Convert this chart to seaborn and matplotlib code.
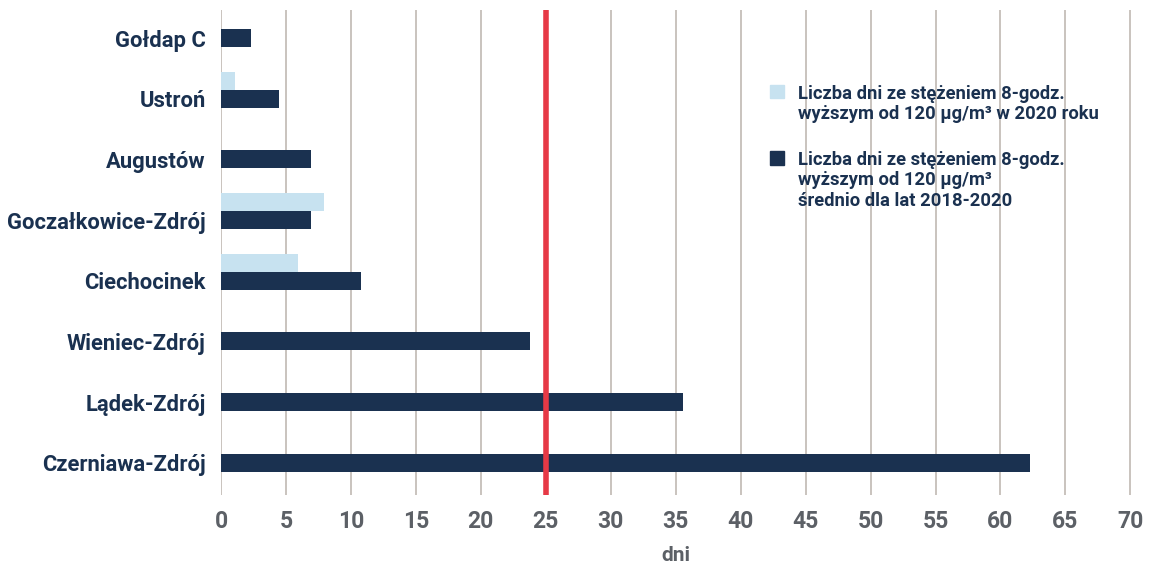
import matplotlib
matplotlib.use("Agg")
import matplotlib.pyplot as plt
import seaborn as sns
import pandas as pd
import numpy as np
from matplotlib.patches import Patch

stations = ["Gołdap C", "Ustroń", "Augustów", "Goczałkowice-Zdrój",
            "Ciechocinek", "Wieniec-Zdrój", "Lądek-Zdrój", "Czerniawa-Zdrój"]
days_2020 = [0, 1.1, 0, 7.9, 5.9, 0, 0, 0]
days_avg = [2.3, 4.5, 6.9, 6.9, 10.8, 23.8, 35.6, 62.3]
x_ticks = list(range(0, 75, 5))
threshold = 25

lbl_2020 = "Liczba dni ze stężeniem 8-godz.\nwyższym od 120 µg/m³ w 2020 roku"
lbl_avg = "Liczba dni ze stężeniem 8-godz.\nwyższym od 120 µg/m³\nśrednio dla lat 2018-2020"

NAVY = "#1a3150"
LIGHT = "#c7e2f0"
RED = "#e63946"
GREY = "#5c6066"
GRID = "#c9c3be"

sns.set_theme(style="white")
plt.rcParams["font.family"] = ["Roboto", "DejaVu Sans"]

df = pd.concat([
    pd.DataFrame({"stacja": stations, "dni": days_2020, "seria": "a"}),
    pd.DataFrame({"stacja": stations, "dni": days_avg, "seria": "b"}),
    pd.DataFrame({"stacja": stations, "dni": [0.0] * len(stations), "seria": "c"}),
], ignore_index=True)

fig = plt.figure(figsize=(11.5, 5.64), dpi=100)
ax = fig.add_axes([0.1922, 0.1223, 0.9835 - 0.1922, 0.982 - 0.1223])

sns.barplot(data=df, y="stacja", x="dni", hue="seria", hue_order=["a", "b", "c"],
            order=stations, palette=[LIGHT, NAVY, "#ffffff"], width=0.89, gap=0,
            orient="h", ax=ax, legend=False, errorbar=None, saturation=1,
            linewidth=0)

ax.set_xlim(0, 70.05)
ax.set_ylim(7.53, -0.46)
ax.set_xticks(x_ticks)
for x in x_ticks:
    ax.axvline(x, color=GRID, lw=1.4, zorder=0)
ax.axvline(threshold, color=RED, lw=4, zorder=5)

for s in ax.spines.values():
    s.set_visible(False)
ax.tick_params(axis="both", length=0)
ax.tick_params(axis="x", pad=11)
ax.tick_params(axis="y", pad=11)
for t in ax.get_xticklabels():
    t.set_fontsize(16.5)
    t.set_fontweight("bold")
    t.set_color(GREY)
for t in ax.get_yticklabels():
    t.set_fontsize(15.8)
    t.set_fontweight("bold")
    t.set_color(NAVY)
ax.set_ylabel("")
ax.set_xlabel("dni", fontsize=15, fontweight="bold", color=GREY, labelpad=9)

handles = [Patch(color=LIGHT), Patch(color=NAVY)]
leg = ax.legend(handles, [lbl_2020, lbl_avg], loc="upper left",
                bbox_to_anchor=(0.603, 0.846), frameon=False,
                borderpad=0, borderaxespad=0,
                handlelength=0.75, handleheight=0.75,
                handletextpad=0.8, labelspacing=1.55,
                prop={"family": ["Roboto", "DejaVu Sans"], "weight": "bold", "size": 13.2})
for t in leg.get_texts():
    t.set_color(NAVY)
    t.set_linespacing(1.15)
# align each legend square with the first line of its text
for col in leg._legend_handle_box.get_children():
    for entry in col.get_children():
        entry.align = "top"

fig.savefig("out.png", dpi=100)
